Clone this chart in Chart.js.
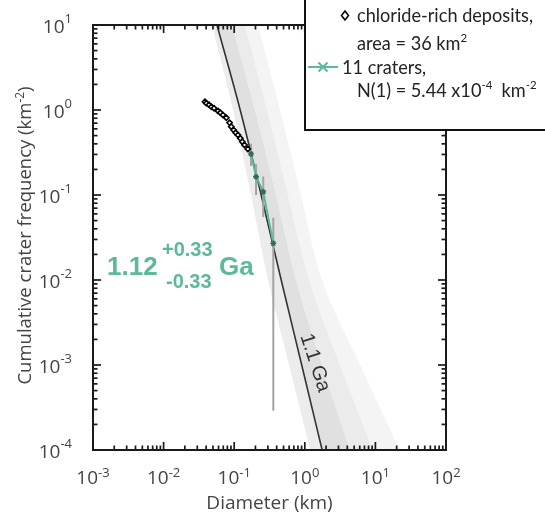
<!DOCTYPE html>
<html><head><meta charset="utf-8">
<script src="https://cdn.jsdelivr.net/npm/chart.js@4.4.0/dist/chart.umd.min.js"></script>
<style>html,body{margin:0;padding:0;background:#fff}canvas{display:block}</style>
</head><body>
<canvas id="c" width="545" height="521"></canvas>
<script>
// ---------- data ----------
const depositD = [0.0385,0.0404,0.0440,0.0475,0.0518,0.0589,0.0637,0.0693,0.0773,0.0861,0.091,0.0982,0.105,0.113,0.122,0.130,0.140,0.156];
const depositN = [1.25,1.20,1.15,1.09,1.05,0.973,0.93,0.873,0.81,0.709,0.637,0.582,0.541,0.508,0.464,0.424,0.388,0.348];
const craterD = [0.173,0.204,0.258,0.358];
const craterN = [0.304,0.164,0.109,0.027];
const craterErrLow  = [0.22,0.10,0.055,0.00029];
const craterErrHigh = [0.40,0.23,0.165,0.054];
const isoN      = [1e-4,1e-3,1e-2,1e-1,1,10];
const iso11D    = [1.76,0.904,0.463,0.241,0.1216,0.057];
const bandLeftD = [1.19,0.597,0.301,0.173,0.0962,0.0485];
const bandR1D   = [4.37,1.75,0.750,0.391,0.197,0.0931];
const bandR2D   = [9.25,3.15,1.15,0.578,0.292,0.142];
const bandR3D   = [22.3,6.05,1.75,0.883,0.446,0.217];
const xTickValues = [1e-3,1e-2,1e-1,1,10,100];
const xTickExp    = ['-3','-2','-1','0','1','2'];
const yTickValues = [1e-4,1e-3,1e-2,1e-1,1,10];
const yTickExp    = ['-4','-3','-2','-1','0','1'];
const minorMultipliers = [2,3,4,5,6,7,8,9];

const TEAL = '#5cb99b';
const pts = (xs, ys) => xs.map((v,i)=>({x:v, y:ys[i]}));

const datasets = [];
datasets.push({type:'scatter', data: pts(depositD, depositN), showLine:false,
  pointStyle:'rectRot', pointRadius:2.6, pointBorderWidth:1.6, pointBorderColor:'#000', pointBackgroundColor:'#fff'});
datasets.push({type:'scatter', data: pts(craterD, craterN), showLine:true,
  borderColor:TEAL, borderWidth:2, pointStyle:'star', pointRadius:3,
  pointBorderWidth:1.3, pointBorderColor:'#2f6b58', pointBackgroundColor:'#2f6b58'});
craterD.forEach((d,i)=>{
  datasets.push({type:'scatter', showLine:true, data:[{x:d,y:craterErrLow[i]},{x:d,y:craterErrHigh[i]}],
    borderColor:'#a3a3a3', borderWidth:2, pointRadius:0});
});
const ISO = datasets.length;
datasets.push({type:'line', indexAxis:'y', data: pts(iso11D, isoN), borderColor:'#333', borderWidth:1.6,
  pointRadius:0, fill:false, cubicInterpolationMode:'monotone'});
datasets.push({type:'line', indexAxis:'y', data: pts(bandLeftD, isoN), borderWidth:0, borderColor:'rgba(0,0,0,0)',
  backgroundColor:'#ececec', pointRadius:0, fill:ISO, cubicInterpolationMode:'monotone'});
const R1 = datasets.length;
datasets.push({type:'line', indexAxis:'y', data: pts(bandR1D, isoN), borderWidth:0, borderColor:'rgba(0,0,0,0)',
  backgroundColor:'#e0e0e0', pointRadius:0, fill:ISO, cubicInterpolationMode:'monotone'});
const R2 = datasets.length;
datasets.push({type:'line', indexAxis:'y', data: pts(bandR2D, isoN), borderWidth:0, borderColor:'rgba(0,0,0,0)',
  backgroundColor:'#ebebeb', pointRadius:0, fill:R1, cubicInterpolationMode:'monotone'});
datasets.push({type:'line', indexAxis:'y', data: pts(bandR3D, isoN), borderWidth:0, borderColor:'rgba(0,0,0,0)',
  backgroundColor:'#f4f4f4', pointRadius:0, fill:R2, cubicInterpolationMode:'monotone'});

function drawRich(ctx, parts, x, y, base, sup, rise, scaleX){
  ctx.save(); ctx.translate(x,y); ctx.scale(scaleX||1,1);
  let cx=0;
  for(const p of parts){ ctx.font = p.s?sup:base; ctx.fillText(p.t, cx, p.s?-rise:0); cx += ctx.measureText(p.t).width; }
  ctx.restore();
}
function richWidth(ctx, parts, base, sup){
  let w=0; for(const p of parts){ ctx.font=p.s?sup:base; w+=ctx.measureText(p.t).width; } return w;
}

const decor = {
  id:'decor',
  afterDraw(chart){
    const ctx = chart.ctx, a = chart.chartArea, xs = chart.scales.x, ys = chart.scales.y;
    ctx.save();
    ctx.strokeStyle='#1a1a1a'; ctx.lineWidth=2;
    ctx.strokeRect(a.left, a.top, a.right-a.left, a.bottom-a.top);
    // inward ticks on all four sides
    ctx.fillStyle='#1a1a1a';
    const tw = 1.7;
    const tickX = (v, len) => { const p=xs.getPixelForValue(v);
      ctx.fillRect(p-tw/2, a.bottom-len, tw, len); ctx.fillRect(p-tw/2, a.top, tw, len); };
    const tickY = (v, len) => { const p=ys.getPixelForValue(v);
      ctx.fillRect(a.left, p-tw/2, len, tw); ctx.fillRect(a.right-len, p-tw/2, len, tw); };
    xTickValues.forEach((v,i)=>{ tickX(v,8); if(i<xTickValues.length-1) minorMultipliers.forEach(m=>tickX(v*m,4.5)); });
    yTickValues.forEach((v,i)=>{ tickY(v,8); if(i<yTickValues.length-1) minorMultipliers.forEach(m=>tickY(v*m,4.5)); });
    // tick labels
    ctx.fillStyle='#444'; ctx.textAlign='left'; ctx.textBaseline='alphabetic';
    const B='19px "Open Sans"', S='13px "Open Sans"';
    xTickValues.forEach((v,i)=>{
      const parts=[{t:'10'},{t:xTickExp[i],s:true}];
      const w=richWidth(ctx,parts,B,S); const p=xs.getPixelForValue(v);
      drawRich(ctx,parts,p-w/2,484,B,S,7);
    });
    yTickValues.forEach((v,i)=>{
      const parts=[{t:'10'},{t:yTickExp[i],s:true}];
      const w=richWidth(ctx,parts,B,S); const p=ys.getPixelForValue(v);
      drawRich(ctx,parts,72-w,p+8,B,S,10);
    });
    // axis titles
    const TB='18.5px "Open Sans"', TS='12px "Open Sans"';
    let parts=[{t:'Diameter (km)'}];
    let w=richWidth(ctx,parts,'19px "Open Sans"',TS);
    drawRich(ctx,parts,(a.left+a.right)/2-w/2,509,'19px "Open Sans"',TS,0);
    parts=[{t:'Cumulative crater frequency (km'},{t:'-2',s:true},{t:')'}];
    w=richWidth(ctx,parts,TB,TS);
    ctx.save(); ctx.translate(31,(a.top+a.bottom)/2-2); ctx.rotate(-Math.PI/2);
    drawRich(ctx,parts,-w/2,0,TB,TS,7);
    ctx.restore();
    // isochron label
    ctx.save();
    ctx.translate(xs.getPixelForValue(1.39), ys.getPixelForValue(1.06e-3));
    ctx.rotate(72*Math.PI/180);
    ctx.fillStyle='#333'; ctx.font='20px "Liberation Sans"'; ctx.textAlign='center'; ctx.textBaseline='middle';
    ctx.fillText('1.1 Ga',0,0);
    ctx.restore();
    // model age
    ctx.fillStyle=TEAL; ctx.textAlign='left'; ctx.textBaseline='alphabetic';
    ctx.font='bold 26px "Liberation Sans"'; ctx.fillText('1.12',107,275);
    ctx.font='bold 20px "Liberation Sans"'; ctx.fillText('+0.33',162,256); ctx.fillText('-0.33',166,288);
    ctx.font='bold 26px "Liberation Sans"'; ctx.fillText('Ga',219,275);
    // legend box
    ctx.fillStyle='#fff'; ctx.fillRect(305,0,240,130);
    ctx.strokeStyle='#111'; ctx.lineWidth=2;
    ctx.beginPath(); ctx.moveTo(305,0); ctx.lineTo(305,130); ctx.lineTo(545,130); ctx.stroke();
    ctx.lineWidth=1.6; ctx.strokeStyle='#000'; ctx.fillStyle='#fff';
    ctx.beginPath(); ctx.moveTo(345,11); ctx.lineTo(348.5,15.5); ctx.lineTo(345,20); ctx.lineTo(341.5,15.5); ctx.closePath(); ctx.fill(); ctx.stroke();
    ctx.strokeStyle=TEAL; ctx.lineWidth=2;
    ctx.beginPath(); ctx.moveTo(308,67); ctx.lineTo(338,67); ctx.stroke();
    ctx.beginPath(); ctx.moveTo(318.5,62.5); ctx.lineTo(327.5,71.5); ctx.moveTo(327.5,62.5); ctx.lineTo(318.5,71.5); ctx.stroke();
    ctx.fillStyle='#222';
    const LB='19px Lato', LS='12px Lato';
    const first=[{t:'chloride-rich deposits,'}];
    const k = 176/richWidth(ctx,first,LB,LS);
    const line=(p,x0,base)=>drawRich(ctx,p,x0,base,LB,LS,8,k);
    line(first,357,22);
    line([{t:'area = 36 km'},{t:'2',s:true}],357,50);
    line([{t:'11 craters,'}],342,74);
    line([{t:'N(1) = 5.44 x10'},{t:'-4',s:true},{t:'  km'},{t:'-2',s:true}],357,97);
    ctx.restore();
  }
};

new Chart(document.getElementById('c'), {
  type:'scatter',
  data:{datasets},
  options:{
    responsive:false, animation:false, devicePixelRatio:1,
    layout:{padding:{left:0,right:99,top:25,bottom:0}},
    plugins:{legend:{display:false}, tooltip:{enabled:false}},
    scales:{
      x:{type:'logarithmic', min:1e-3, max:1e2, grid:{display:false}, border:{display:false},
         ticks:{display:false}, afterFit:s=>{s.height=71;}},
      y:{type:'logarithmic', min:1e-4, max:10, grid:{display:false}, border:{display:false},
         ticks:{display:false}, afterFit:s=>{s.width=93;}}
    }
  },
  plugins:[decor]
});
</script>
</body></html>
